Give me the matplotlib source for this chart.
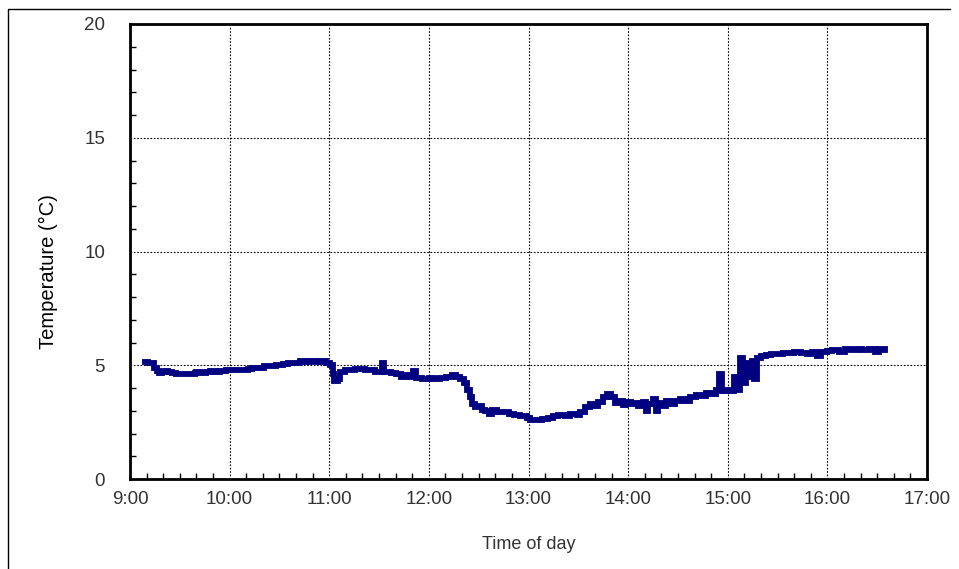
import matplotlib
matplotlib.use("Agg")
import matplotlib.pyplot as plt
from matplotlib.ticker import MultipleLocator, FuncFormatter
from matplotlib.lines import Line2D

# minutes after 9:00 and logged temperature
minutes = [9, 11, 13, 14.5, 16, 17.5, 19, 21, 23, 25, 28, 31, 35, 39, 40, 42, 46, 48, 51, 54,
           58, 61.5, 66, 71, 73.5, 77, 81, 84, 88, 92, 95, 99, 102.5, 106, 108.5, 112, 114.5, 118, 120.5, 122,
           123, 125, 126.5, 129.5, 135.5, 141.5, 147.5, 150.5, 152, 153, 157, 160, 163, 166, 169, 170.5, 172.5, 176, 180, 183,
           187, 190.5, 194, 196.5, 199, 201, 203, 204.5, 206, 208, 210, 212, 214, 216, 218, 221, 224, 228, 231.5, 235,
           239, 241, 245, 248, 252, 254.5, 258, 262, 265, 269, 271, 274, 277, 280, 282, 285, 287, 289.5, 292, 294,
           297, 299, 301.5, 304, 306, 309, 310.5, 312, 315, 316.5, 318, 321, 323, 325.5, 328.5, 331.5, 334.5, 337.5, 341, 344,
           347, 350, 353, 354.5, 356.5, 359.5, 362, 364, 365.5, 367.5, 369, 371, 373, 374.5, 376, 377.5, 380, 383, 386, 389.5,
           393, 397, 400, 404, 407.5, 411, 413.5, 416, 420, 423, 427, 430.5, 434, 438, 441, 445, 448.5, 451, 454.5]
temps = [5.15, 5.1, 5.1, 4.9, 4.75, 4.65, 4.7, 4.75, 4.7, 4.65, 4.6, 4.6, 4.62, 4.65, 4.72, 4.65, 4.7, 4.75, 4.7, 4.75,
         4.78, 4.8, 4.8, 4.85, 4.9, 4.88, 4.95, 4.98, 5.0, 5.05, 5.1, 5.12, 5.2, 5.15, 5.2, 5.15, 5.2, 5.1, 5.0, 4.6,
         4.3, 4.4, 4.7, 4.8, 4.82, 4.8, 4.72, 4.7, 5.1, 4.7, 4.65, 4.6, 4.5, 4.55, 4.5, 4.75, 4.45, 4.4, 4.45, 4.4,
         4.45, 4.5, 4.55, 4.5, 4.4, 4.2, 3.9, 3.6, 3.3, 3.15, 3.2, 3.05, 3.0, 2.85, 3.05, 2.95, 2.95, 2.85, 2.8, 2.75,
         2.7, 2.6, 2.6, 2.62, 2.7, 2.75, 2.8, 2.75, 2.85, 2.8, 2.95, 3.15, 3.3, 3.2, 3.4, 3.6, 3.75, 3.6, 3.35, 3.45,
         3.25, 3.4, 3.3, 3.35, 3.2, 3.4, 3.0, 3.3, 3.5, 3.0, 3.35, 3.2, 3.45, 3.3, 3.45, 3.5, 3.45, 3.6, 3.7, 3.65,
         3.8, 3.75, 3.9, 4.6, 3.85, 3.9, 3.85, 4.5, 3.9, 5.3, 4.2, 5.1, 4.5, 5.2, 4.4, 5.3, 5.4, 5.45, 5.5, 5.5,
         5.55, 5.52, 5.6, 5.55, 5.5, 5.6, 5.4, 5.6, 5.62, 5.65, 5.6, 5.7, 5.65, 5.7, 5.65, 5.72, 5.6, 5.7, 5.65]

hours = [9 + m / 60 for m in minutes]

plt.rcParams['font.family'] = ['Liberation Sans', 'DejaVu Sans']

fig = plt.figure(figsize=(9.59, 5.69), dpi=100)
ax = fig.add_axes([130 / 959, 1 - 479 / 569, 797 / 959, 455 / 569])

ax.plot(hours, temps, color='#000080', lw=4.2, drawstyle='steps-post', solid_joinstyle='miter')

ax.set_xlim(9, 17)
ax.set_ylim(0, 20)
ax.xaxis.set_major_locator(MultipleLocator(1))
ax.xaxis.set_minor_locator(MultipleLocator(1 / 6))
ax.yaxis.set_major_locator(MultipleLocator(5))
ax.yaxis.set_minor_locator(MultipleLocator(1))
ax.xaxis.set_major_formatter(FuncFormatter(lambda v, p: '%d:00' % round(v)))

ax.tick_params(which='both', direction='in', top=False, right=False, width=1)
ax.tick_params(which='major', length=0, labelsize=13.5, labelcolor='#333333')
ax.tick_params(which='minor', length=4)
ax.tick_params(axis='y', which='major', pad=18)
ax.tick_params(axis='x', which='major', pad=9)

ax.grid(True, which='major', color='black', linestyle=(0, (1.5, 1.5)), linewidth=0.8)
for s in ax.spines.values():
    s.set_linewidth(2)

ax.set_xlabel('Time of day', fontsize=13, color='#333333', labelpad=20)
ax.set_ylabel('Temperature (°C)', fontsize=14.5, color='black')
ax.yaxis.set_label_coords(-0.09, 0.455)

# outer frame around chart area
fig.add_artist(Line2D([8 / 959, 8 / 959, 950 / 959], [0, 1 - 9 / 569, 1 - 9 / 569],
                      transform=fig.transFigure, color='black', lw=1))

fig.savefig('out.png', dpi=100)
